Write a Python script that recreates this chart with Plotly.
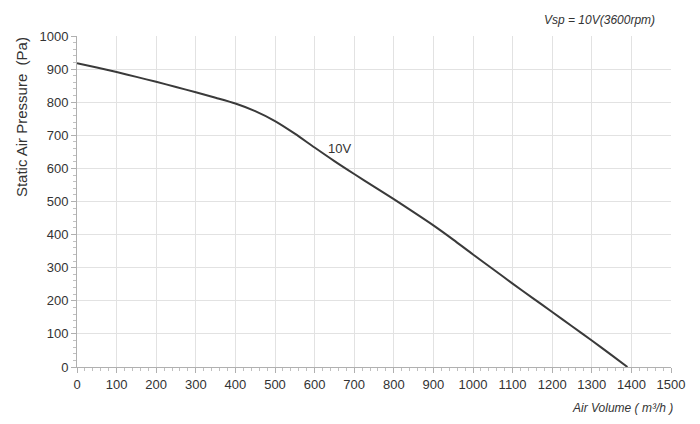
import plotly.graph_objects as go

air_volume = [0, 50, 100, 150, 200, 250, 300, 350, 400, 450, 500, 550, 600, 650, 700, 750, 800, 850, 900, 950, 1000, 1050, 1100, 1150, 1200, 1250, 1300, 1350, 1390]
pressure = [918, 905, 891, 876.5, 861.5, 846, 830, 813.5, 796, 773, 743, 705, 663, 622, 583, 545, 507, 468, 428, 385, 340, 296, 252, 209, 166, 123, 80, 36, 0]

curve_label = "10V"
label_x, label_y = 662, 660

fig = go.Figure()
fig.add_trace(go.Scatter(x=air_volume, y=pressure, mode="lines",
                         line=dict(color="#3a3a3a", width=2, shape="spline", smoothing=0.8),
                         showlegend=False))

fig.add_annotation(x=label_x, y=label_y, text=curve_label, showarrow=False,
                   font=dict(size=13, color="#333"))
fig.add_annotation(x=1.0, y=1.0, xref="paper", yref="paper", xanchor="right", yanchor="bottom",
                   yshift=7, xshift=-14, text="<i>Vsp = 10V(3600rpm)</i>", showarrow=False,
                   font=dict(size=12, color="#333"))
fig.add_annotation(x=1.0, y=0, xref="paper", yref="paper", xanchor="right", yanchor="top",
                   yshift=-32, xshift=4, text="<i>Air Volume ( m³/h )</i>", showarrow=False,
                   font=dict(size=12, color="#333"))
fig.add_annotation(x=0, y=0.755, xref="paper", yref="paper", xanchor="center", yanchor="middle",
                   xshift=-56, textangle=-90, text="Static Air Pressure  (Pa)", showarrow=False,
                   font=dict(size=15, color="#333"))

axis_common = dict(showgrid=True, gridcolor="#e2e2e2", gridwidth=1, showline=True,
                   linecolor="#b0b0b0", linewidth=1, ticks="outside", ticklen=5,
                   tickcolor="#b0b0b0", zeroline=False, automargin=False,
                   tickfont=dict(size=13, color="#333", family="Liberation Sans, Arial"),
                   minor=dict(ticks="outside", ticklen=3, tickcolor="#c0c0c0", dtick=20, showgrid=False))

fig.update_xaxes(range=[0, 1500], dtick=100, **axis_common)
fig.update_yaxes(range=[0, 1000], dtick=100, **axis_common)

fig.update_layout(width=700, height=424, margin=dict(l=69, r=37, t=28, b=65),
                  plot_bgcolor="white", paper_bgcolor="white",
                  font=dict(family="Liberation Sans, Arial", color="#333"))

fig.write_html("out.html")
